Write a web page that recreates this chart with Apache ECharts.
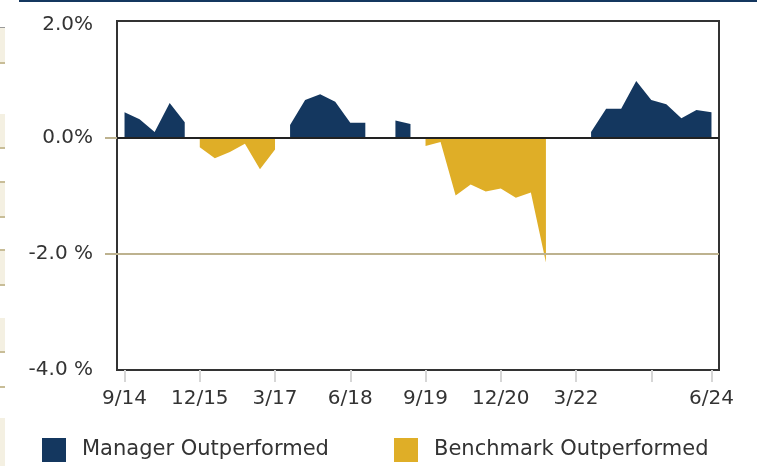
<!DOCTYPE html>
<html>
<head>
<meta charset="utf-8">
<script src="https://cdn.jsdelivr.net/npm/echarts@6/dist/echarts.min.js"></script>
<style>
  html, body { margin: 0; padding: 0; background: #ffffff; }
  #chart { width: 757px; height: 466px; }
</style>
</head>
<body>
<div id="chart"></div>
<script>
// Quarter-end dates, 9/14 through 6/24
var quarters = [
  '9/14','12/14','3/15','6/15','9/15','12/15','3/16','6/16','9/16','12/16',
  '3/17','6/17','9/17','12/17','3/18','6/18','9/18','12/18','3/19','6/19',
  '9/19','12/19','3/20','6/20','9/20','12/20','3/21','6/21','9/21','12/21',
  '3/22','6/22','9/22','12/22','3/23','6/23','9/23','12/23','3/24','6/24'
];

// Excess return (%) in quarters where the manager beat the benchmark
var managerOutperformed = [
  0.43, 0.31, 0.09, 0.59, 0.26, null, null, null, null, null,
  null, 0.21, 0.64, 0.74, 0.61, 0.25, 0.25, null, 0.29, 0.23,
  null, null, null, null, null, null, null, null, null, null,
  null, 0.09, 0.49, 0.49, 0.97, 0.64, 0.57, 0.33, 0.47, 0.43
];

// Shortfall (%) in quarters where the benchmark came out ahead
var benchmarkOutperformed = [
  null, null, null, null, null, -0.17, -0.36, -0.25, -0.11, -0.55,
  -0.21, null, null, null, null, null, null, null, null, null,
  -0.15, -0.08, -1.00, -0.81, -0.93, -0.88, -1.04, -0.95, -2.15, null,
  null, null, null, null, null, null, null, null, null, null
];

// Value-axis tick labels
var yTickValues = [2, 0, -2, -4];
var yTickLabels = { '2': '2.0%', '0': '0.0%', '-2': '-2.0 %', '-4': '-4.0 %' };

// Which quarters carry an x tick, and which of those carry a label
var xTickIdx = [0, 5, 10, 15, 20, 25, 30, 35, 39];
var xLabelIdx = [0, 5, 10, 15, 20, 25, 30, 39];

var NAVY = '#14375f';
var GOLD = '#dfae27';
var TAN = '#bdb28f';
var FONT = 'DejaVu Sans';

// Edge of the neighbouring table: cream rows between tan rules
var sideRows = [[28, 63], [114, 148], [182, 217], [250, 285], [318, 352], [418, 470]];
var sideRules = [63, 148, 182, 217, 250, 285, 352, 387];

var graphics = [
  { type: 'rect', left: 19, top: 0, shape: { width: 738, height: 2 }, style: { fill: NAVY }, silent: true }
];
sideRows.forEach(function (r) {
  graphics.push({ type: 'rect', left: 0, top: r[0], shape: { width: 5, height: r[1] - r[0] }, style: { fill: '#f4f0e2' }, silent: true });
});
sideRules.forEach(function (y) {
  graphics.push({ type: 'rect', left: 0, top: y - 1, shape: { width: 5, height: 2 }, style: { fill: '#c8bd97' }, silent: true });
});
graphics.push({ type: 'rect', left: 0, top: 27, shape: { width: 5, height: 1 }, style: { fill: '#9a9a9a' }, silent: true });

var chart = echarts.init(document.getElementById('chart'), null, { renderer: 'canvas' });

var legendText = { fontFamily: FONT, fontSize: 21, color: '#333333', padding: [2, 0, 0, 11] };

chart.setOption({
  animation: false,
  backgroundColor: '#ffffff',
  textStyle: { fontFamily: FONT },
  graphic: graphics,
  grid: {
    left: 117, right: 38, top: 21, bottom: 96,
    show: true,
    borderColor: '#333333',
    borderWidth: 2,
    containLabel: false
  },
  legend: [
    {
      data: ['Manager Outperformed'],
      left: 42, top: 438, padding: 0,
      icon: 'rect', itemWidth: 24, itemHeight: 24,
      textStyle: legendText
    },
    {
      data: ['Benchmark Outperformed'],
      left: 394, top: 438, padding: 0,
      icon: 'rect', itemWidth: 24, itemHeight: 24,
      textStyle: legendText
    }
  ],
  xAxis: {
    type: 'category',
    data: quarters,
    boundaryGap: true,
    position: 'bottom',
    axisLine: { show: false, onZero: false },
    axisTick: {
      show: true,
      alignWithLabel: true,
      length: 12,
      interval: function (i) { return xTickIdx.indexOf(i) >= 0; },
      lineStyle: { color: '#d6d6d6', width: 2 }
    },
    axisLabel: {
      interval: function (i) { return xLabelIdx.indexOf(i) >= 0; },
      margin: 19,
      fontFamily: FONT,
      fontSize: 20,
      color: '#333333'
    },
    splitLine: { show: false }
  },
  yAxis: {
    type: 'value',
    min: -4,
    max: 2,
    interval: 2,
    axisLine: { show: false },
    axisTick: {
      show: true,
      length: 12,
      customValues: [0, -2],
      lineStyle: { color: TAN, width: 2 }
    },
    axisLabel: {
      customValues: yTickValues,
      formatter: function (v) {
        // the top label sits a little lower than its gridline
        return v === 2 ? '{top|' + yTickLabels['2'] + '}' : yTickLabels[String(v)];
      },
      rich: {
        top: { fontFamily: FONT, fontSize: 20, color: '#333333', padding: [7, 0, 0, 0] }
      },
      margin: 24,
      fontFamily: FONT,
      fontSize: 20,
      color: '#333333'
    },
    splitLine: { show: false }
  },
  series: [
    {
      name: 'Manager Outperformed',
      type: 'line',
      data: managerOutperformed,
      connectNulls: false,
      symbol: 'none',
      lineStyle: { width: 0 },
      itemStyle: { color: NAVY },
      areaStyle: { color: NAVY, opacity: 1, origin: 0 },
      z: 2
    },
    {
      name: 'Benchmark Outperformed',
      type: 'line',
      data: benchmarkOutperformed,
      connectNulls: false,
      symbol: 'none',
      lineStyle: { width: 0 },
      itemStyle: { color: GOLD },
      areaStyle: { color: GOLD, opacity: 1, origin: 0 },
      z: 2
    },
    {
      // carries the -2% rule and the zero line, drawn over the areas
      name: 'rules',
      type: 'line',
      data: [],
      symbol: 'none',
      silent: true,
      z: 5,
      markLine: {
        silent: true,
        symbol: 'none',
        label: { show: false },
        animation: false,
        data: [
          { yAxis: -2, lineStyle: { color: TAN, width: 2, type: 'solid' } },
          { yAxis: 0, lineStyle: { color: '#222222', width: 2, type: 'solid' } }
        ]
      }
    }
  ]
});
</script>
</body>
</html>
